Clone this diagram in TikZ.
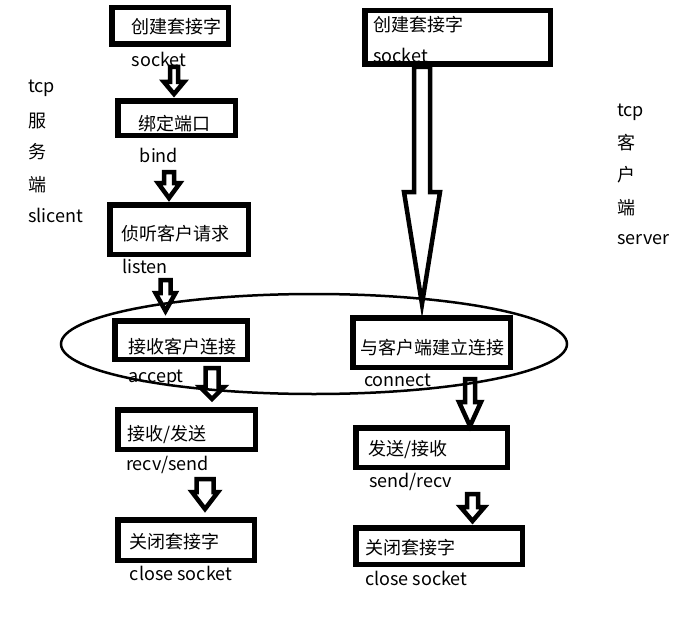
\documentclass[tikz,border=0pt]{standalone}
\usepackage{fontspec}
\setmainfont{Noto Sans CJK SC}
\usetikzlibrary{calc}
\tikzset{
  box/.style={draw=black, line width=5.5pt, rectangle, inner sep=0pt},
  txt/.style={inner sep=0pt, font=\fontsize{18pt}{21pt}\selectfont},
  barrow/.style={draw=black, line width=4.5pt, line join=miter},
  ring/.style={draw=black, line width=2.5pt}
}
% block arrow: start coord, end coord, shaft half, head half, head length
\newcommand\blockarrow[5]{\draw[barrow] let \p1=(#1), \p2=(#2) in
  (\x1-#3,\y1) -- (\x1-#3,\y2+#5) -- (\x1-#4,\y2+#5) -- (\x1,\y2)
  -- (\x1+#4,\y2+#5) -- (\x1+#3,\y2+#5) -- (\x1+#3,\y1) -- cycle;}
\begin{document}
\begin{tikzpicture}[x=1pt,y=-1pt]
\useasboundingbox[fill=white] (0,0) rectangle (683,618);

% left column boxes
\node[box, minimum width=116.5pt, minimum height=36.5pt] (l1) at (170,26) {};
\node[box, minimum width=117.5pt, minimum height=34.5pt] (l2) at (176.5,118) {};
\node[box, minimum width=138.5pt, minimum height=49.5pt] (l3) at (179,229.5) {};
\node[box, minimum width=132.5pt, minimum height=38.5pt] (l4) at (181,340) {};
\node[box, minimum width=137.5pt, minimum height=39.5pt] (l5) at (186.5,429.5) {};
\node[box, minimum width=136.5pt, minimum height=40.5pt] (l6) at (186,540) {};

% right column boxes
\node[box, minimum width=185.5pt, minimum height=53.5pt] (r1) at (457.5,37.5) {};
\node[box, minimum width=157.5pt, minimum height=49.5pt] (r2) at (431.5,342.5) {};
\node[box, minimum width=151.5pt, minimum height=39.5pt] (r3) at (431.5,447.5) {};
\node[box, minimum width=166.5pt, minimum height=36.5pt] (r4) at (439,546) {};

% left texts
\node[txt] (t1) at (176,27) {创建套接字};
\node[txt] (s1) at (159,59) {socket};
\node[txt] (t2) at (174,124) {绑定端口};
\node[txt] (s2) at (159,155) {bind};
\node[txt] (t3) at (175,234) {侦听客户请求};
\node[txt] (s3) at (145,266) {listen};
\node[txt] (t4) at (182,347) {接收客户连接};
\node[txt] (s4) at (156,378) {accept};
\node[txt] (t5) at (167,435) {接收/发送};
\node[txt] (s5) at (167.5,465) {recv/send};
\node[txt] (t6) at (174,542) {关闭套接字};
\node[txt] (s6) at (181,573) {close socket};

% right texts
\node[txt, anchor=west] (u1) at (373,25) {创建套接字};
\node[txt, anchor=west] (v1) at (373,55) {socket};
\node[txt, anchor=west] (u2) at (360,348) {与客户端建立连接};
\node[txt, anchor=west] (v2) at (364,380) {connect};
\node[txt, anchor=west] (u3) at (368,450) {发送/接收};
\node[txt, anchor=west] (v3) at (369,482) {send/recv};
\node[txt, anchor=west] (u4) at (365,548) {关闭套接字};
\node[txt, anchor=west] (v4) at (365,578) {close socket};

% side labels
\node[txt, anchor=west] (sl1) at (28,88) {tcp};
\node[txt, anchor=west] (sl2) at (28,121) {服};
\node[txt, anchor=west] (sl3) at (28,152) {务};
\node[txt, anchor=west] (sl4) at (28,185) {端};
\node[txt, anchor=west] (sl5) at (28,215) {slicent};
\node[txt, anchor=west] (sr1) at (617,112) {tcp};
\node[txt, anchor=west] (sr2) at (617,143) {客};
\node[txt, anchor=west] (sr3) at (617,175) {户};
\node[txt, anchor=west] (sr4) at (617,208) {端};
\node[txt, anchor=west] (sr5) at (617,240) {server};

% arrow end points
\coordinate (a1s) at (174,67);   \coordinate (a1e) at (174,94);
\coordinate (a2s) at (169,172);  \coordinate (a2e) at (169,198);
\coordinate (a3s) at (165.5,280);\coordinate (a3e) at (165.5,311);
\coordinate (a4s) at (212,368);  \coordinate (a4e) at (212,399);
\coordinate (a5s) at (205,479);  \coordinate (a5e) at (205,509);
\coordinate (b1s) at (422,67);   \coordinate (b1e) at (422,304);
\coordinate (b2s) at (470,379);  \coordinate (b2e) at (470,426);
\coordinate (b3s) at (472.5,494);\coordinate (b3e) at (472.5,521);

\blockarrow{a1s}{a1e}{4}{10}{12}
\blockarrow{a2s}{a2e}{5}{11}{15}
\blockarrow{a3s}{a3e}{5}{10}{18}
\blockarrow{a4s}{a4e}{6.5}{12}{12}
\blockarrow{a5s}{a5e}{8.5}{13}{17}
\blockarrow{b1s}{b1e}{8}{18}{112}
\blockarrow{b2s}{b2e}{5}{11}{24}
\blockarrow{b3s}{b3e}{5.5}{12}{14}

% ellipse
\draw[ring] (314,344) ellipse [x radius=253pt, y radius=50pt];
\end{tikzpicture}
\end{document}
